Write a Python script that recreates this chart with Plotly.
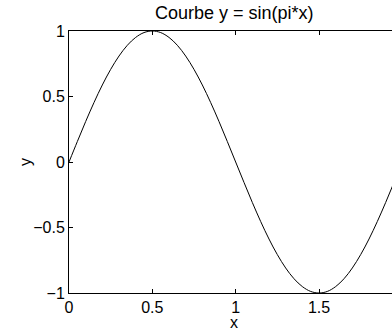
import plotly.graph_objects as go

# values
x_vals = [0.00, 0.05, 0.10, 0.15, 0.20, 0.25, 0.30, 0.35, 0.40, 0.45,
          0.50, 0.55, 0.60, 0.65, 0.70, 0.75, 0.80, 0.85, 0.90, 0.95,
          1.00, 1.05, 1.10, 1.15, 1.20, 1.25, 1.30, 1.35, 1.40, 1.45,
          1.50, 1.55, 1.60, 1.65, 1.70, 1.75, 1.80, 1.85, 1.90, 1.95, 2.00]
y_vals = [0.000, 0.156, 0.309, 0.454, 0.588, 0.707, 0.809, 0.891, 0.951, 0.988,
          1.000, 0.988, 0.951, 0.891, 0.809, 0.707, 0.588, 0.454, 0.309, 0.156,
          0.000, -0.156, -0.309, -0.454, -0.588, -0.707, -0.809, -0.891, -0.951, -0.988,
          -1.000, -0.988, -0.951, -0.891, -0.809, -0.707, -0.588, -0.454, -0.309, -0.156, 0.000]

x_ticks = [0, 0.5, 1, 1.5]
x_tick_labels = ["0", "0.5", "1", "1.5"]
y_ticks = [-1, -0.5, 0, 0.5, 1]
y_tick_labels = ["\u22121", "\u22120.5", "0", "0.5", "1"]

FONT = "Liberation Sans, Arial, Helvetica, sans-serif"

fig = go.Figure()
fig.add_trace(go.Scatter(x=x_vals, y=y_vals, mode="lines", line_shape="spline",
                         line=dict(color="black", width=1), showlegend=False))

axis_common = dict(showgrid=False, zeroline=False, showline=True, linecolor="black",
                   linewidth=1, ticks="inside", ticklen=4, tickcolor="black",
                   tickfont=dict(family=FONT, size=16, color="black"))

fig.update_layout(
    width=392, height=331,
    margin=dict(l=69, r=0, t=31, b=38),
    paper_bgcolor="white", plot_bgcolor="white",
    font=dict(family=FONT, color="black"),
    xaxis=dict(range=[0, 1.938], tickvals=x_ticks, ticktext=x_tick_labels,
               mirror="ticks", **axis_common),
    yaxis=dict(range=[-1, 1], tickvals=y_ticks, ticktext=y_tick_labels,
               mirror=False, **axis_common),
    annotations=[
        dict(text="Courbe y = sin(pi*x)", xref="paper", yref="paper", x=0.511, y=1,
             yshift=18, xanchor="center", yanchor="middle", showarrow=False,
             font=dict(family=FONT, size=18, color="black")),
        dict(text="x", xref="paper", yref="paper", x=0.511, y=0, yshift=-29,
             xanchor="center", yanchor="middle", showarrow=False,
             font=dict(family=FONT, size=16, color="black")),
        dict(text="y", xref="paper", yref="paper", x=0, y=0.5, xshift=-44,
             xanchor="center", yanchor="middle", textangle=-90, showarrow=False,
             font=dict(family=FONT, size=16, color="black")),
    ],
)

# drop the default body margin so the figure fills the window exactly
fig.write_html("out.html", config={"displayModeBar": False},
               post_script="document.body.style.margin='0px';")
